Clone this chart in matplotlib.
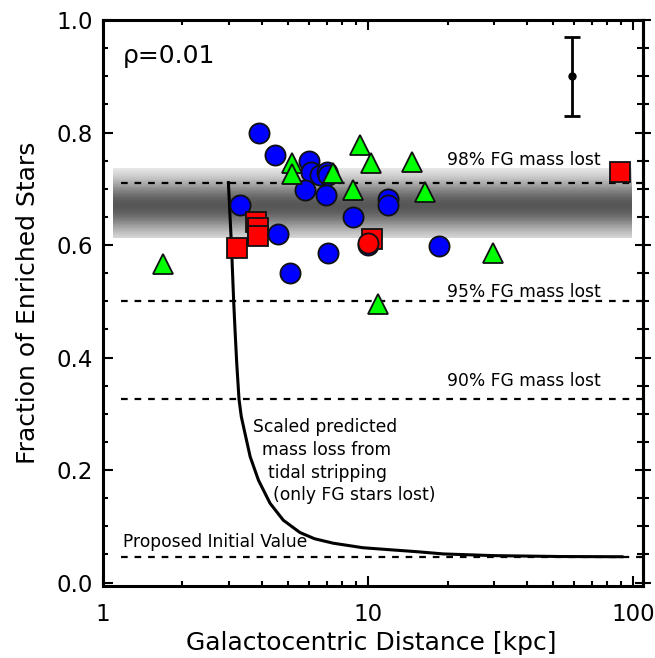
import numpy as np
import matplotlib
matplotlib.use("Agg")
import matplotlib.pyplot as plt
from matplotlib.ticker import MultipleLocator, FixedLocator, FixedFormatter, LogLocator, NullFormatter

plt.rcParams['font.family'] = ['DejaVu Sans']

# ---------------- data ----------------
blue_x = [3.9, 4.47, 6.0, 6.1, 6.6, 7.0, 7.1, 5.8, 6.94, 3.3, 4.57, 8.83, 11.9, 11.9, 7.06, 5.09, 10.05, 18.6]
blue_y = [0.80, 0.76, 0.75, 0.73, 0.724, 0.73, 0.724, 0.698, 0.689, 0.671, 0.62, 0.65, 0.681, 0.671, 0.585, 0.55, 0.60, 0.598]

red_sq_x = [3.79, 3.86, 3.86, 3.2, 10.35, 89.6]
red_sq_y = [0.641, 0.63, 0.616, 0.594, 0.61, 0.729]

red_circ_x = [10.05]
red_circ_y = [0.603]

green_x = [1.69, 5.2, 5.2, 7.42, 9.35, 10.3, 14.7, 8.83, 16.5, 10.97, 29.6]
green_y = [0.567, 0.746, 0.727, 0.728, 0.778, 0.746, 0.747, 0.697, 0.695, 0.496, 0.586]

curve_x = [2.98, 3.06, 3.12, 3.157, 3.204, 3.268, 3.334, 3.421, 3.6, 3.87, 4.28, 4.8, 5.55, 6.3, 7.42, 9.6, 12.5, 15.3, 19.3, 29.8, 53.0, 91.0]
curve_y = [0.711, 0.60, 0.50, 0.449, 0.390, 0.326, 0.295, 0.271, 0.224, 0.182, 0.141, 0.111, 0.089, 0.078, 0.070, 0.062, 0.058, 0.055, 0.051, 0.048, 0.0464, 0.046]

hlines_y = [0.711, 0.50, 0.327, 0.045]
hline_labels = ["98% FG mass lost", "95% FG mass lost", "90% FG mass lost"]

err_x = 59.0
err_y = 0.90
err_dy = 0.07

band_center = 0.67
band_lo, band_hi = 0.612, 0.737

xticks = [1, 10, 100]
xticklabels = ["1", "10", "100"]
yticks = [0.0, 0.2, 0.4, 0.6, 0.8, 1.0]
yticklabels = ["0.0", "0.2", "0.4", "0.6", "0.8", "1.0"]

# ---------------- figure ----------------
fig = plt.figure(figsize=(6.55, 6.58), dpi=100)
ax = fig.add_axes([102.7 / 655, 1 - 586 / 658, 540 / 655, 566 / 658])
ax.set_xscale('log')
ax.set_xlim(1, 109)
ax.set_ylim(-0.006, 1.0)

# grey band
yy = np.linspace(band_lo, band_hi, 121)
shade = 1 - 0.66 * np.exp(-(0.5 * (yy[:-1] + yy[1:]) - band_center) ** 2 / (2 * 0.034 ** 2))
ax.pcolormesh([1.09, 99.0], yy, shade[:, None], cmap='gray', vmin=0, vmax=1,
              shading='flat', zorder=1)

# dashed horizontal lines
for yv in hlines_y:
    ax.plot([1.17, 109], [yv, yv], color='black', lw=1.6, dashes=(3.0, 3.1), zorder=2)

# curve
ax.plot(curve_x, curve_y, color='black', lw=2.2, zorder=3, solid_joinstyle='round')

# markers
ax.plot(blue_x, blue_y, 'o', ms=14.5, mfc='#0000ff', mec='#111111', mew=1.3, ls='none', zorder=4)
ax.plot(red_sq_x, red_sq_y, 's', ms=14, mfc='#ff0000', mec='#111111', mew=1.3, ls='none', zorder=5)
ax.plot(red_circ_x, red_circ_y, 'o', ms=14.5, mfc='#ff0000', mec='#111111', mew=1.3, ls='none', zorder=6)
ax.plot(green_x, green_y, '^', ms=15, mfc='#00ff00', mec='#111111', mew=1.3, ls='none', zorder=7)

# error bar
ax.errorbar([err_x], [err_y], yerr=[err_dy], fmt='o', color='black', ms=5,
            elinewidth=2, capsize=6, capthick=2, zorder=8)

# texts
ax.text(0.0376, 0.924, "ρ=0.01", transform=ax.transAxes, fontsize=18, ha='left', va='baseline')
ax.text(19.9, 0.742, hline_labels[0], fontsize=12.3, ha='left', va='baseline')
ax.text(19.9, 0.508, hline_labels[1], fontsize=12.3, ha='left', va='baseline')
ax.text(19.9, 0.350, hline_labels[2], fontsize=12.3, ha='left', va='baseline')
ax.text(1.19, 0.0636, "Proposed Initial Value", fontsize=12.3, ha='left', va='baseline')
ax.text(3.70, 0.2676, "Scaled predicted", fontsize=12.3, ha='left', va='baseline')
ax.text(4.00, 0.2267, "mass loss from", fontsize=12.3, ha='left', va='baseline')
ax.text(4.19, 0.1852, "tidal stripping", fontsize=12.3, ha='left', va='baseline')
ax.text(4.38, 0.1467, "(only FG stars lost)", fontsize=12.3, ha='left', va='baseline')

# axes styling
for s in ax.spines.values():
    s.set_linewidth(2.2)
ax.xaxis.set_major_locator(FixedLocator(xticks))
ax.xaxis.set_major_formatter(FixedFormatter(xticklabels))
ax.xaxis.set_minor_locator(LogLocator(base=10, subs=np.arange(2, 10)))
ax.xaxis.set_minor_formatter(NullFormatter())
ax.yaxis.set_major_locator(FixedLocator(yticks))
ax.yaxis.set_major_formatter(FixedFormatter(yticklabels))
ax.yaxis.set_minor_locator(MultipleLocator(0.05))

ax.tick_params(axis='x', which='both', direction='in', top=True, bottom=True, labelsize=16.5, pad=12.2)
ax.tick_params(axis='y', which='both', direction='in', left=True, right=False, labelsize=16.5, pad=6.8)
ax.tick_params(which='major', length=7, width=1.5)
ax.tick_params(which='minor', length=3.6, width=1.5)

sec = ax.secondary_yaxis('right')
sec.yaxis.set_major_locator(FixedLocator(yticks))
sec.yaxis.set_minor_locator(MultipleLocator(0.05))
sec.tick_params(which='both', direction='inout', labelright=False)
sec.tick_params(which='major', length=12, width=1.5)
sec.tick_params(which='minor', length=8, width=1.5)
sec.spines['right'].set_linewidth(2.2)

ax.set_xlabel("Galactocentric Distance [kpc]", fontsize=18)
ax.xaxis.set_label_coords(0.498, -0.08)
ax.set_ylabel("Fraction of Enriched Stars", fontsize=18)
ax.yaxis.set_label_coords(-0.116, 0.5)

fig.savefig("out.png", dpi=100)
